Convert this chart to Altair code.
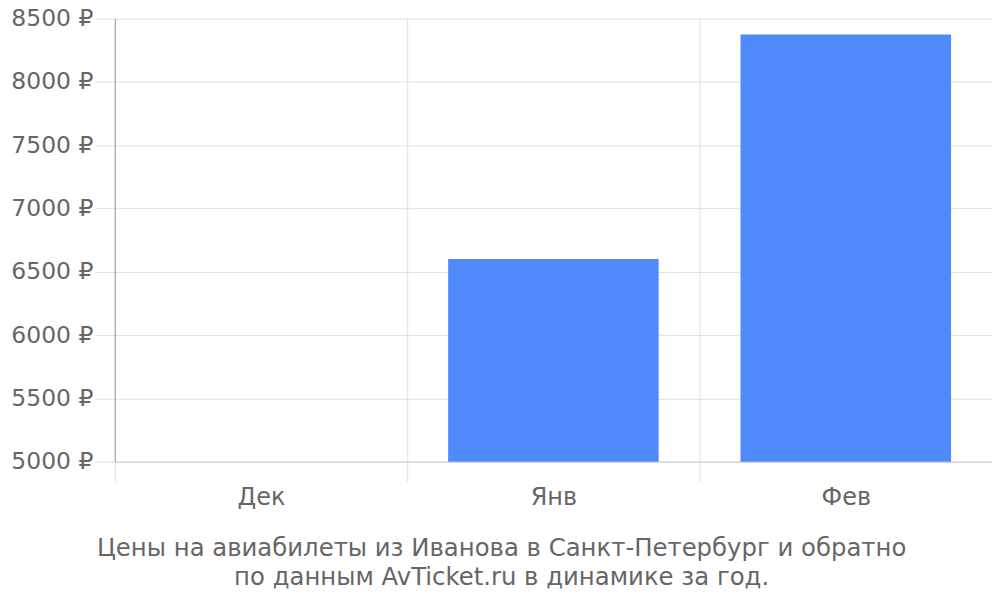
import altair as alt
import pandas as pd

months = ["Дек", "Янв", "Фев"]
prices = [None, 6600, 8375]
y_ticks = [5000, 5500, 6000, 6500, 7000, 7500, 8000, 8500]
title_lines = ["Цены на авиабилеты из Иванова в Санкт-Петербург и обратно",
               "по данным AvTicket.ru в динамике за год."]

df = pd.DataFrame({"month": months, "price": prices})

FONT = "DejaVu Sans"
TXT = "#666666"
GRID = "#e0e0e0"

chart = alt.Chart(df).mark_bar(color="#4e8af9", clip=True,
                               width=alt.RelativeBandSize(0.72)).encode(
    x=alt.X("month:N", sort=months, title=None,
            scale=alt.Scale(paddingInner=0, paddingOuter=0),
            axis=alt.Axis(labelAngle=0, grid=True, tickBand="extent",
                          gridColor=GRID, tickColor=GRID, tickSize=20,
                          domainColor="#cccccc", labelFont=FONT, labelFontSize=24,
                          labelColor=TXT, labelPadding=4)),
    y=alt.Y("price:Q", title=None,
            scale=alt.Scale(domain=[5000, 8500], nice=False, zero=False),
            axis=alt.Axis(values=y_ticks, labelExpr="datum.value + ' ₽'",
                          gridColor=GRID, tickColor=GRID, tickSize=20,
                          domainColor="#999999", labelFont=FONT, labelFontSize=23.5,
                          labelColor=TXT, labelPadding=2)),
).properties(
    width=879, height=444,
    title=alt.TitleParams(title_lines, orient="bottom", anchor="middle", frame="bounds",
                          font=FONT, fontSize=24.4, fontWeight="normal",
                          color=TXT, offset=28, lineHeight=29),
    autosize=alt.AutoSizeParams(type="none"),
    padding={"left": 107, "top": 10, "right": 0, "bottom": 130},
).configure_view(stroke=None)

chart.save("out.html", embed_options={"renderer": "svg", "actions": False})
